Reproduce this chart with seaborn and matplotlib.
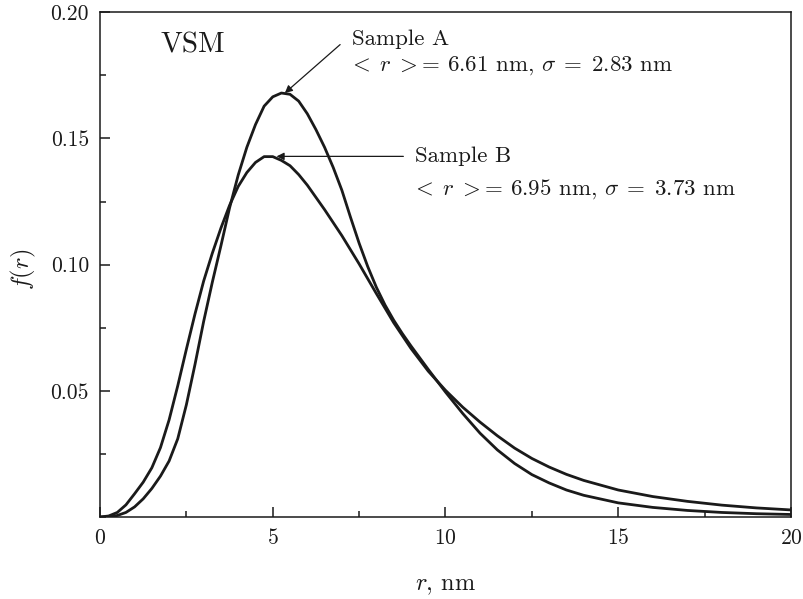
import numpy as np
import pandas as pd
import matplotlib
matplotlib.use('Agg')
import matplotlib.pyplot as plt
from matplotlib.ticker import MultipleLocator
import seaborn as sns

# size distributions f(r)
r_a = [0, 0.25, 0.5, 0.75, 1.0, 1.25, 1.5, 1.75, 2.0, 2.25, 2.5, 2.75, 3.0,
       3.25, 3.5, 3.75, 4.0, 4.25, 4.5, 4.75, 5.0, 5.25, 5.5, 5.75, 6.0,
       6.25, 6.5, 6.75, 7.0, 7.25, 7.5, 7.75, 8.0, 8.25, 8.5, 8.75, 9.0,
       9.5, 10, 10.5, 11, 11.5, 12, 12.5, 13, 13.5, 14, 15, 16, 17, 18, 19,
       20]
f_a = [0, 0.0001, 0.0006, 0.0018, 0.0040, 0.0072, 0.0113, 0.0162, 0.0222,
       0.0310, 0.0445, 0.0605, 0.0775, 0.0930, 0.1075, 0.1225, 0.1355,
       0.1465, 0.1555, 0.1628, 0.1665, 0.1680, 0.1675, 0.1648, 0.1598,
       0.1535, 0.1465, 0.1385, 0.1295, 0.1188, 0.1085, 0.0992, 0.0910,
       0.0840, 0.0780, 0.0727, 0.0678, 0.0585, 0.0495, 0.0410, 0.0332,
       0.0266, 0.0212, 0.0168, 0.0135, 0.0107, 0.0086, 0.0056, 0.0038,
       0.0026, 0.0018, 0.0013, 0.0010]

r_b = [0, 0.25, 0.5, 0.75, 1.0, 1.25, 1.5, 1.75, 2.0, 2.25, 2.5, 2.75, 3.0,
       3.25, 3.5, 3.75, 4.0, 4.25, 4.5, 4.75, 5.0, 5.25, 5.5, 5.75, 6.0,
       6.5, 7.0, 7.5, 8.0, 8.5, 9.0, 9.5, 10, 10.5, 11, 11.5, 12, 12.5, 13,
       13.5, 14, 15, 16, 17, 18, 19, 20]
f_b = [0, 0.0004, 0.0018, 0.0048, 0.0092, 0.0138, 0.0195, 0.0275, 0.0385,
       0.0520, 0.0665, 0.0805, 0.0935, 0.1045, 0.1145, 0.1235, 0.1310,
       0.1365, 0.1405, 0.1428, 0.1428, 0.1413, 0.1392, 0.1357, 0.1315,
       0.1218, 0.1115, 0.1003, 0.0885, 0.0770, 0.0668, 0.0578, 0.0502,
       0.0435, 0.0376, 0.0322, 0.0273, 0.0232, 0.0198, 0.0169, 0.0145,
       0.0107, 0.0081, 0.0062, 0.0047, 0.0036, 0.0028]

label_a = r'$<\;r\;>\!=\,6.61$ nm, $\sigma\;=\;2.83$ nm'
label_b = r'$<\;r\;>\!=\,6.95$ nm, $\sigma\;=\;3.73$ nm'

df = pd.concat([
    pd.DataFrame({'r': r_a, 'f': f_a, 'sample': 'A'}),
    pd.DataFrame({'r': r_b, 'f': f_b, 'sample': 'B'}),
])

sns.set_style('ticks')
plt.rcParams['font.family'] = ['cmr10', 'DejaVu Serif']
plt.rcParams['mathtext.fontset'] = 'cm'
plt.rcParams['axes.formatter.use_mathtext'] = True
plt.rcParams['axes.unicode_minus'] = False

ink = '#1a1a1a'
fig = plt.figure(figsize=(8.04, 5.99), dpi=100)
ax = fig.add_axes([0.1244, 0.1369, 0.8594, 0.8426])

sns.lineplot(data=df, x='r', y='f', units='sample', estimator=None,
             color=ink, lw=2.0, ax=ax, legend=False)

ax.set_xlim(0, 20)
ax.set_ylim(0, 0.20)
ax.set_xticks([0, 5, 10, 15, 20])
ax.set_yticks([0.05, 0.10, 0.15, 0.20])
ax.set_yticklabels(['0.05', '0.10', '0.15', '0.20'])
ax.xaxis.set_minor_locator(MultipleLocator(2.5))
ax.yaxis.set_minor_locator(MultipleLocator(0.025))
ax.tick_params(which='both', direction='in', top=False, right=False,
               labelsize=15.5, colors=ink, width=1.1)
ax.tick_params(which='major', length=7.5, pad=8)
ax.tick_params(which='minor', length=4)
for s in ax.spines.values():
    s.set_linewidth(1.1)
    s.set_color(ink)

ax.set_xlabel(r'$r$, nm', fontsize=17.5, color=ink)
ax.set_ylabel(r'$f(r)$', fontsize=17.5, color=ink)
ax.xaxis.set_label_coords(0.5, -0.115)
ax.yaxis.set_label_coords(-0.09, 0.49)

ax.text(1.74, 0.184, 'VSM', fontsize=21, color=ink)

arrow = dict(arrowstyle='-|>', color=ink, lw=0.9,
             mutation_scale=11, shrinkA=0, shrinkB=0)
ax.annotate('', xy=(5.35, 0.168), xytext=(6.95, 0.1872), arrowprops=arrow)
ax.annotate('', xy=(5.11, 0.1429), xytext=(8.78, 0.1429), arrowprops=arrow)

ax.text(7.29, 0.1872, 'Sample A', fontsize=16.5, color=ink)
ax.text(7.17, 0.1769, label_a, fontsize=16.5, color=ink)
ax.text(9.12, 0.1405, 'Sample B', fontsize=16.5, color=ink)
ax.text(9.0, 0.1277, label_b, fontsize=16.5, color=ink)

fig.savefig('out.png', dpi=100)
